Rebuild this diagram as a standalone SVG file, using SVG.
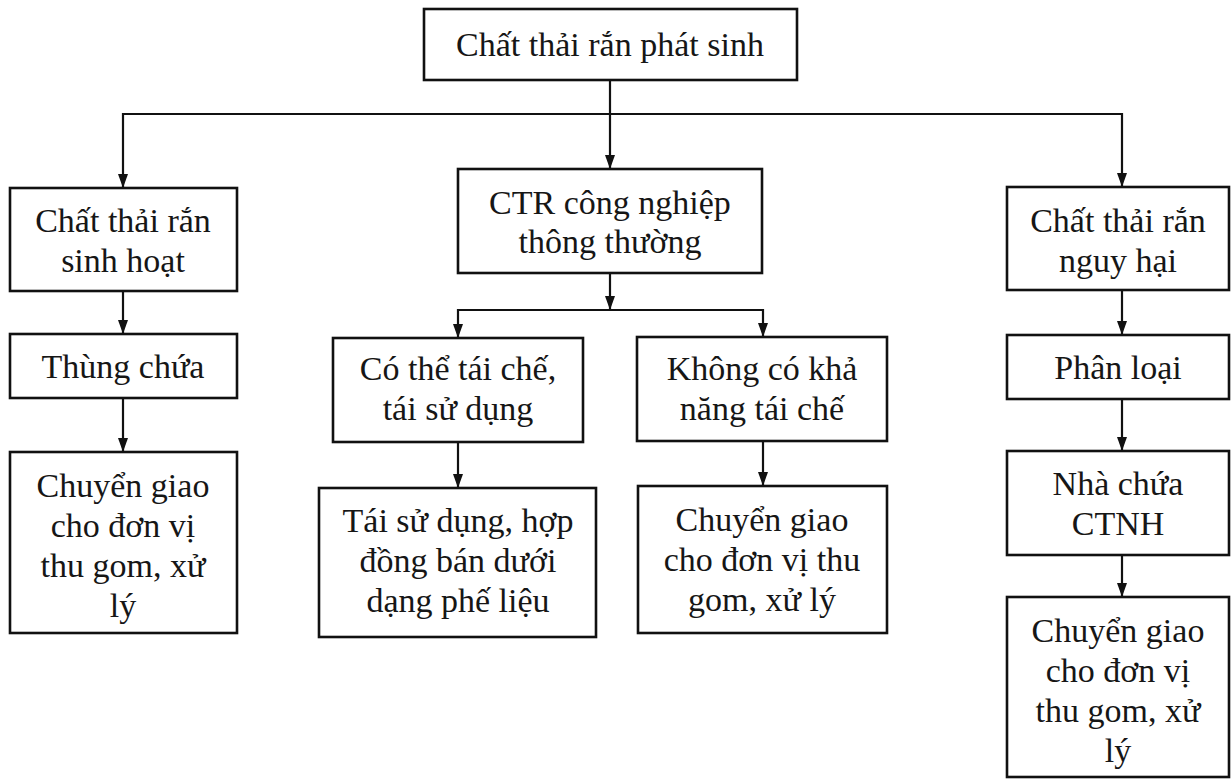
<svg xmlns="http://www.w3.org/2000/svg" width="1232" height="780" viewBox="0 0 1232 780">
  <defs>
    <marker id="arrow" viewBox="0 0 14 10" refX="14" refY="5" markerWidth="14" markerHeight="10" markerUnits="userSpaceOnUse" orient="auto">
      <path d="M0,0 L14,5 L0,10 z" fill="#111"/>
    </marker>
    <style>
      .box { fill: #fff; stroke: #111; stroke-width: 2.6; }
      .lbl { font-family: "Liberation Serif", "Times New Roman", serif; font-size: 34px; fill: #161616; text-anchor: middle; }
      .wire { fill: none; stroke: #111; stroke-width: 2.2; }
      .arr { marker-end: url(#arrow); }
    </style>
  </defs>
  <rect width="1232" height="780" fill="#fff"/>

  <!-- connectors -->
  <g id="connectors">
    <path class="wire arr" d="M610,80 V169"/>
    <path class="wire arr" d="M610,114 H123 V188"/>
    <path class="wire arr" d="M610,114 H1122 V187"/>
    <path class="wire arr" d="M610,273 V310"/>
    <path class="wire arr" d="M610,310 H458 V338"/>
    <path class="wire arr" d="M610,310 H763 V337"/>
    <path class="wire arr" d="M458,442 V488"/>
    <path class="wire arr" d="M763,441 V486"/>
    <path class="wire arr" d="M123,291 V334"/>
    <path class="wire arr" d="M123,398 V452"/>
    <path class="wire arr" d="M1122,290 V335"/>
    <path class="wire arr" d="M1122,399 V451"/>
    <path class="wire arr" d="M1122,555 V597"/>
  </g>

  <!-- root -->
  <g id="n-root">
    <rect class="box" x="424" y="9" width="373" height="71"/>
    <text class="lbl" x="610" y="56">Chất thải rắn phát sinh</text>
  </g>

  <!-- domestic waste column -->
  <g id="n-sinhhoat">
    <rect class="box" x="10" y="188" width="227" height="103"/>
    <text class="lbl" x="123" y="232">Chất thải rắn</text>
    <text class="lbl" x="123" y="272">sinh hoạt</text>
  </g>
  <g id="n-thungchua">
    <rect class="box" x="10" y="334" width="227" height="64"/>
    <text class="lbl" x="123" y="378">Thùng chứa</text>
  </g>
  <g id="n-chuyengiao-1">
    <rect class="box" x="10" y="452" width="227" height="181"/>
    <text class="lbl" x="123" y="497">Chuyển giao</text>
    <text class="lbl" x="123" y="537">cho đơn vị</text>
    <text class="lbl" x="123" y="577">thu gom, xử</text>
    <text class="lbl" x="123" y="617">lý</text>
  </g>

  <!-- industrial waste column -->
  <g id="n-congnghiep">
    <rect class="box" x="458" y="169" width="304" height="104"/>
    <text class="lbl" x="610" y="214">CTR công nghiệp</text>
    <text class="lbl" x="610" y="253">thông thường</text>
  </g>
  <g id="n-taiche">
    <rect class="box" x="333" y="338" width="250" height="104"/>
    <text class="lbl" x="458" y="380">Có thể tái chế,</text>
    <text class="lbl" x="458" y="420">tái sử dụng</text>
  </g>
  <g id="n-khongtaiche">
    <rect class="box" x="637" y="337" width="250" height="104"/>
    <text class="lbl" x="762" y="380">Không có khả</text>
    <text class="lbl" x="762" y="420">năng tái chế</text>
  </g>
  <g id="n-phelieu">
    <rect class="box" x="319" y="488" width="277" height="149"/>
    <text class="lbl" x="458" y="532">Tái sử dụng, hợp</text>
    <text class="lbl" x="458" y="572">đồng bán dưới</text>
    <text class="lbl" x="458" y="612">dạng phế liệu</text>
  </g>
  <g id="n-chuyengiao-2">
    <rect class="box" x="638" y="486" width="249" height="147"/>
    <text class="lbl" x="762" y="531">Chuyển giao</text>
    <text class="lbl" x="762" y="571">cho đơn vị thu</text>
    <text class="lbl" x="762" y="611">gom, xử lý</text>
  </g>

  <!-- hazardous waste column -->
  <g id="n-nguyhai">
    <rect class="box" x="1007" y="187" width="222" height="103"/>
    <text class="lbl" x="1118" y="232">Chất thải rắn</text>
    <text class="lbl" x="1118" y="272">nguy hại</text>
  </g>
  <g id="n-phanloai">
    <rect class="box" x="1007" y="335" width="222" height="64"/>
    <text class="lbl" x="1118" y="379">Phân loại</text>
  </g>
  <g id="n-nhachua">
    <rect class="box" x="1007" y="451" width="222" height="104"/>
    <text class="lbl" x="1118" y="495">Nhà chứa</text>
    <text class="lbl" x="1118" y="535">CTNH</text>
  </g>
  <g id="n-chuyengiao-3">
    <rect class="box" x="1007" y="597" width="222" height="180"/>
    <text class="lbl" x="1118" y="642">Chuyển giao</text>
    <text class="lbl" x="1118" y="682">cho đơn vị</text>
    <text class="lbl" x="1118" y="722">thu gom, xử</text>
    <text class="lbl" x="1118" y="762">lý</text>
  </g>
</svg>
